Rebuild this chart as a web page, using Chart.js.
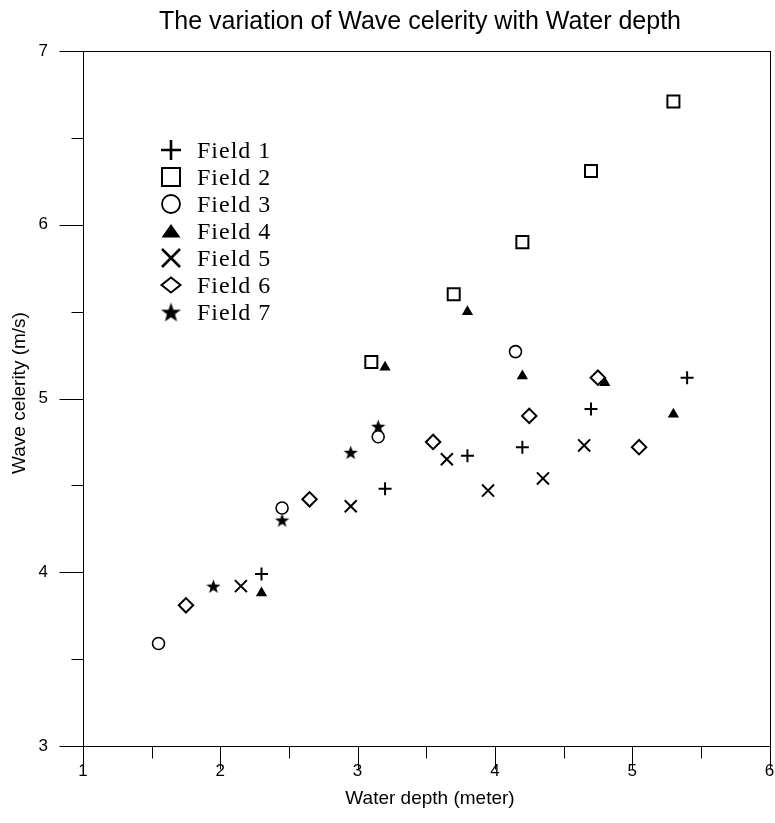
<!DOCTYPE html>
<html>
<head>
<meta charset="utf-8">
<script src="https://cdn.jsdelivr.net/npm/chart.js@4.4.1/dist/chart.umd.min.js"></script>
<style>
  html, body { margin: 0; padding: 0; background: #fff; overflow: hidden; }
  #wrap { width: 775px; height: 823px; overflow: hidden; }
</style>
</head>
<body>
<div id="wrap"><canvas id="chart" width="780" height="823"></canvas></div>
<script>
// Données (profondeur en m, célérité en m/s)
const fieldNames = ['Field 1', 'Field 2', 'Field 3', 'Field 4', 'Field 5', 'Field 6', 'Field 7'];

const field1Depth = [2.3, 3.2, 3.8, 4.2, 4.7, 5.4];
const field1Celerity = [3.99, 4.48, 4.67, 4.72, 4.94, 5.12];

const field2Depth = [3.1, 3.7, 4.2, 4.7, 5.3];
const field2Celerity = [5.21, 5.60, 5.90, 6.31, 6.71];

const field3Depth = [1.55, 2.45, 3.15, 4.15];
const field3Celerity = [3.59, 4.37, 4.78, 5.27];

const field4Depth = [2.3, 3.2, 3.8, 4.2, 4.8, 5.3];
const field4Celerity = [3.88, 5.18, 5.50, 5.13, 5.09, 4.91];

const field5Depth = [2.15, 2.95, 3.65, 3.95, 4.35, 4.65];
const field5Celerity = [3.92, 4.38, 4.65, 4.47, 4.54, 4.73];

const field6Depth = [1.75, 2.65, 3.55, 4.25, 4.75, 5.05];
const field6Celerity = [3.81, 4.42, 4.75, 4.90, 5.12, 4.72];

const field7Depth = [1.95, 2.45, 2.95, 3.15];
const field7Celerity = [3.92, 4.30, 4.69, 4.84];

const xTickValues = [1, 2, 3, 4, 5, 6];
const yTickValues = [3, 4, 5, 6, 7];

const SANS = '"Liberation Sans", Arial, sans-serif';
const SERIF = '"Liberation Serif", "Times New Roman", serif';

// étoile pleine (pas de pointStyle natif équivalent)
function makeStar(r) {
    const c = document.createElement('canvas');
    const s = Math.ceil(r * 2 + 2);
    c.width = s; c.height = s;
    const g = c.getContext('2d');
    g.fillStyle = '#000';
    g.beginPath();
    for (let i = 0; i < 10; i++) {
        const rr = i % 2 === 0 ? r : r * 0.4;
        const a = -Math.PI / 2 + i * Math.PI / 5;
        g.lineTo(s / 2 + rr * Math.cos(a), s / 2 + rr * Math.sin(a) + r * 0.1);
    }
    g.closePath();
    g.fill();
    return c;
}
const starSmall = makeStar(7.5);
const starBig = makeStar(10.5);

function toPoints(xs, ys) {
    return xs.map((x, i) => ({ x: x, y: ys[i] }));
}

const styles = [
    { pointStyle: 'cross', pointRadius: 6.5, borderWidth: 2, bg: '#000' },
    { pointStyle: 'rect', pointRadius: 8.5, borderWidth: 2, bg: '#fff' },
    { pointStyle: 'circle', pointRadius: 6, borderWidth: 1.6, bg: '#fff' },
    { pointStyle: 'triangle', pointRadius: 6.5, borderWidth: 0, bg: '#000' },
    { pointStyle: 'crossRot', pointRadius: 8.5, borderWidth: 2, bg: '#000' },
    { pointStyle: 'rectRot', pointRadius: 7.2, borderWidth: 2, bg: '#fff' },
    { pointStyle: starSmall, pointRadius: 7.5, borderWidth: 0, bg: '#000' }
];

const allDepths = [field1Depth, field2Depth, field3Depth, field4Depth, field5Depth, field6Depth, field7Depth];
const allCelerity = [field1Celerity, field2Celerity, field3Celerity, field4Celerity, field5Celerity, field6Celerity, field7Celerity];

const datasets = fieldNames.map((name, i) => ({
    label: name,
    data: toPoints(allDepths[i], allCelerity[i]),
    pointStyle: styles[i].pointStyle,
    pointRadius: styles[i].pointRadius,
    pointBorderWidth: styles[i].borderWidth,
    borderColor: '#000',
    backgroundColor: styles[i].bg,
    showLine: false
}));

// marqueurs de la légende (plus grands que ceux du graphique)
function legendMarker(ctx, i, x, y) {
    ctx.save();
    ctx.strokeStyle = '#000';
    ctx.fillStyle = '#000';
    ctx.beginPath();
    if (i === 0) {
        ctx.lineWidth = 2.6;
        ctx.moveTo(x - 10, y); ctx.lineTo(x + 10, y);
        ctx.moveTo(x, y - 10); ctx.lineTo(x, y + 10);
        ctx.stroke();
    } else if (i === 1) {
        ctx.lineWidth = 2;
        ctx.rect(x - 9, y - 9, 18, 18);
        ctx.stroke();
    } else if (i === 2) {
        ctx.lineWidth = 1.8;
        ctx.arc(x, y, 9, 0, Math.PI * 2);
        ctx.stroke();
    } else if (i === 3) {
        ctx.moveTo(x - 9.5, y + 6.5); ctx.lineTo(x + 9.5, y + 6.5); ctx.lineTo(x, y - 7);
        ctx.closePath();
        ctx.fill();
    } else if (i === 4) {
        ctx.lineWidth = 2.6;
        ctx.moveTo(x - 9, y - 9); ctx.lineTo(x + 9, y + 9);
        ctx.moveTo(x + 9, y - 9); ctx.lineTo(x - 9, y + 9);
        ctx.stroke();
    } else if (i === 5) {
        ctx.lineWidth = 2;
        ctx.moveTo(x - 9.5, y); ctx.lineTo(x, y - 7.5); ctx.lineTo(x + 9.5, y); ctx.lineTo(x, y + 7.5);
        ctx.closePath();
        ctx.stroke();
    } else {
        ctx.drawImage(starBig, x - starBig.width / 2, y - starBig.height / 2);
    }
    ctx.restore();
}

const framePlugin = {
    id: 'frame',
    afterDraw(chart) {
        const ctx = chart.ctx;
        const a = chart.chartArea;
        const xs = chart.scales.x;
        const ys = chart.scales.y;
        ctx.save();
        ctx.strokeStyle = '#000';
        ctx.lineWidth = 1;
        const L = Math.round(a.left) + 0.5, R = Math.round(a.right) + 0.5;
        const T = Math.round(a.top) + 0.5, B = Math.round(a.bottom) + 0.5;
        ctx.strokeRect(L, T, R - L, B - T);

        // graduations (majeures et mineures)
        ctx.beginPath();
        for (let v = xs.min; v <= xs.max + 1e-9; v += 0.5) {
            const px = Math.round(xs.getPixelForValue(v)) + 0.5;
            const len = Number.isInteger(v) ? 23 : 12;
            ctx.moveTo(px, B); ctx.lineTo(px, B + len);
        }
        for (let v = ys.min; v <= ys.max + 1e-9; v += 0.5) {
            const py = Math.round(ys.getPixelForValue(v)) + 0.5;
            const len = Number.isInteger(v) ? 24 : 12;
            ctx.moveTo(L, py); ctx.lineTo(L - len, py);
        }
        ctx.stroke();

        // titres
        ctx.fillStyle = '#000';
        ctx.textAlign = 'center';
        ctx.textBaseline = 'middle';
        ctx.font = '25px ' + SANS;
        ctx.fillText('The variation of Wave celerity with Water depth', 420, 22);
        ctx.font = '19px ' + SANS;
        ctx.fillText('Water depth (meter)', 430, 799);
        ctx.save();
        ctx.translate(20, 393);
        ctx.rotate(-Math.PI / 2);
        ctx.fillText('Wave celerity (m/s)', 0, 0);
        ctx.restore();

        // légende
        ctx.textAlign = 'left';
        ctx.font = '24px ' + SERIF;
        ctx.letterSpacing = '1px';
        fieldNames.forEach((name, i) => {
            const y = 150 + i * 27;
            legendMarker(ctx, i, 171, y);
            ctx.fillText(name, 197, y + 2);
        });
        ctx.restore();
    }
};

new Chart(document.getElementById('chart'), {
    type: 'scatter',
    data: { datasets: datasets },
    options: {
        responsive: false,
        animation: false,
        devicePixelRatio: 1,
        events: [],
        layout: { padding: { top: 51, right: 0, left: 0, bottom: 0 } },
        plugins: { legend: { display: false }, tooltip: { enabled: false }, title: { display: false } },
        scales: {
            x: {
                type: 'linear',
                min: 1, max: 6,
                afterBuildTicks: (s) => { s.ticks = xTickValues.map(v => ({ value: v })); },
                afterFit: (s) => { s.height = 77; s.paddingLeft = 0; s.paddingRight = 0; },
                grid: { display: false, drawTicks: false },
                border: { display: false },
                ticks: { color: '#000', font: { family: SANS, size: 17 }, padding: 15, maxRotation: 0 }
            },
            y: {
                type: 'linear',
                min: 3, max: 7,
                afterBuildTicks: (s) => { s.ticks = yTickValues.map(v => ({ value: v })); },
                afterFit: (s) => { s.width = 83; s.paddingTop = 0; s.paddingBottom = 0; },
                grid: { display: false, drawTicks: false },
                border: { display: false },
                ticks: { color: '#000', font: { family: SANS, size: 17 }, padding: 35 }
            }
        }
    },
    plugins: [framePlugin]
});
</script>
</body>
</html>
